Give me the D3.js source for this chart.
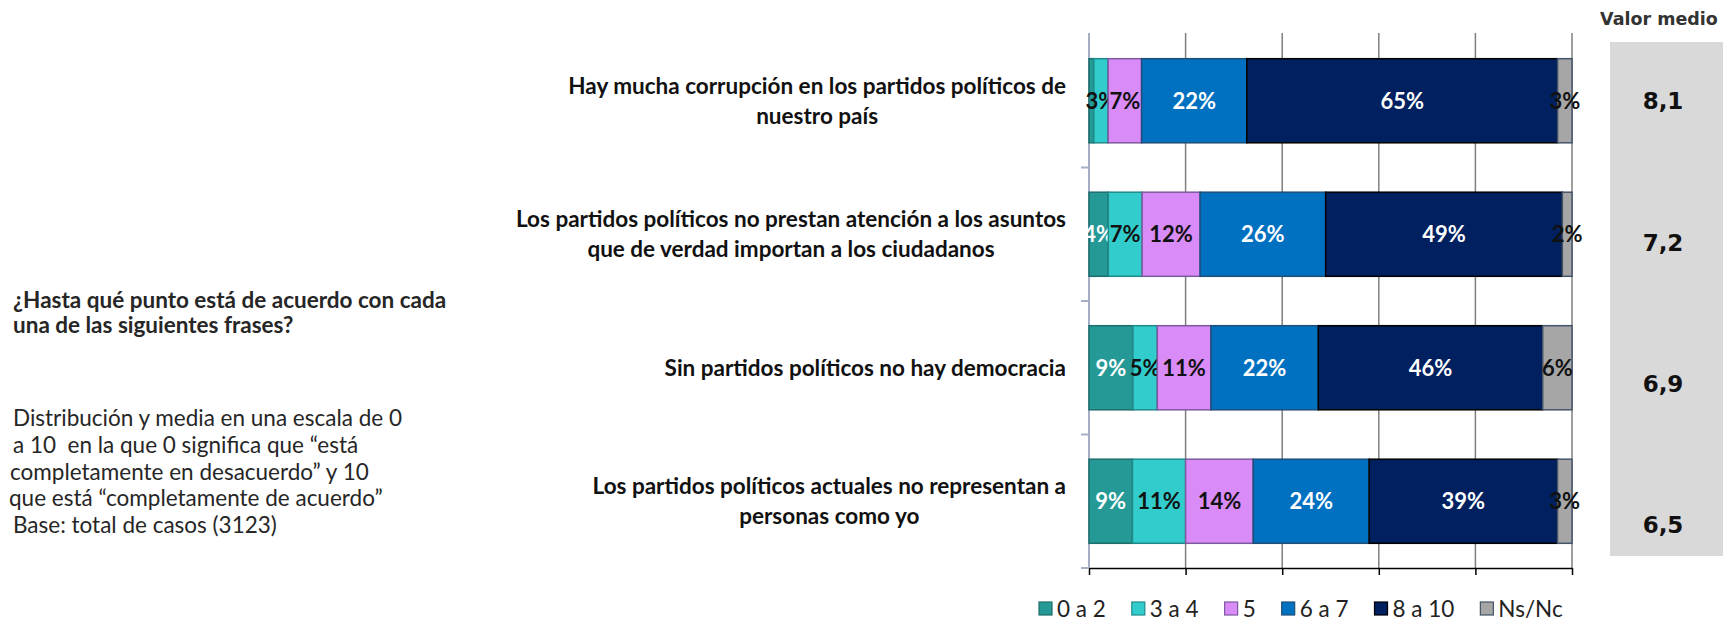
<!DOCTYPE html>
<html>
<head>
<meta charset="utf-8">
<script src="https://cdn.jsdelivr.net/npm/d3@7"></script>
<style>
  body { margin: 0; background: #fff; }
  svg { display: block; font-family: Lato, "Open Sans", sans-serif; }
</style>
</head>
<body>
<svg id="chart" width="1723" height="623"></svg>
<script>
// ---- data ----
const categories = [
  "Hay mucha corrupción en los partidos políticos de|nuestro país",
  "Los partidos políticos no prestan atención a los asuntos|que de verdad importan a los ciudadanos",
  "Sin partidos políticos no hay democracia",
  "Los partidos políticos actuales no representan a|personas como yo"
];
const seriesNames = ["0 a 2", "3 a 4", "5", "6 a 7", "8 a 10", "Ns/Nc"];
const v0a2  = [1, 4, 9, 9];
const v3a4  = [3, 7, 5, 11];
const v5    = [7, 12, 11, 14];
const v6a7  = [22, 26, 22, 24];
const v8a10 = [65, 49, 46, 39];
const vNsNc = [3, 2, 6, 3];
const meanValues = [8.1, 7.2, 6.9, 6.5];
const xTicks = [0, 0.2, 0.4, 0.6, 0.8, 1];

const colors = ["#259996", "#33cccc", "#d98bf8", "#0070c0", "#002060", "#a6a6a6"];
const strokes = ["#1d6e6c", "#1f8a8a", "#7d5a9e", "#1f4e79", "#000000", "#44546a"];
const labelColors = ["#fff", "#111", "#111", "#fff", "#fff", "#111"];

const rows = categories.map((c, i) => ({
  cat: c,
  "0 a 2": v0a2[i], "3 a 4": v3a4[i], "5": v5[i],
  "6 a 7": v6a7[i], "8 a 10": v8a10[i], "Ns/Nc": vNsNc[i]
}));

const svg = d3.select("#chart");

const x = d3.scaleLinear().domain([0, 1]).range([1089, 1572]);
const y = d3.scaleBand().domain(categories).range([34, 568]).paddingInner(0.37).paddingOuter(0.185);

// 100% stacked, like the original
const stack = d3.stack().keys(seriesNames).offset(d3.stackOffsetExpand);
const stacked = stack(rows);

// gridlines
svg.append("g")
  .selectAll("line")
  .data(xTicks.slice(1))
  .join("line")
  .attr("x1", d => x(d)).attr("x2", d => x(d))
  .attr("y1", 33).attr("y2", 568)
  .attr("stroke", "#7f7f7f").attr("stroke-width", 1.5);

// bottom axis
const xAxis = svg.append("g")
  .attr("transform", "translate(0,568)")
  .call(d3.axisBottom(x).tickValues(xTicks).tickFormat("").tickSize(7).tickSizeOuter(0));
xAxis.select(".domain").attr("stroke", "#000").attr("stroke-width", 1.5);
xAxis.selectAll(".tick line").attr("stroke", "#000").attr("stroke-width", 1.5);

// left axis with ticks between categories
const yBounds = d3.range(1, categories.length + 1).map(i => y.range()[0] + i * y.step());
svg.append("line")
  .attr("x1", 1089).attr("x2", 1089).attr("y1", 33).attr("y2", 568)
  .attr("stroke", "#a6aec6").attr("stroke-width", 2);
svg.append("g")
  .selectAll("line")
  .data(yBounds)
  .join("line")
  .attr("x1", 1081).attr("x2", 1089)
  .attr("y1", d => d).attr("y2", d => d)
  .attr("stroke", "#a6aec6").attr("stroke-width", 2);

// bars
const layer = svg.append("g")
  .selectAll("g")
  .data(stacked)
  .join("g");

layer.selectAll("rect")
  .data((s, si) => s.map(d => ({ d, si })))
  .join("rect")
  .attr("x", o => x(o.d[0]))
  .attr("y", o => y(o.d.data.cat))
  .attr("width", o => x(o.d[1]) - x(o.d[0]))
  .attr("height", y.bandwidth())
  .attr("fill", o => colors[o.si])
  .attr("stroke", o => strokes[o.si])
  .attr("stroke-width", 1.5);

// data labels (tiny 1% slice has none)
layer.selectAll("text")
  .data((s, si) => s.map(d => ({ d, si, v: d.data[s.key] })).filter(o => o.v >= 2))
  .join("text")
  .attr("x", o => (x(o.d[0]) + x(o.d[1])) / 2)
  .attr("y", o => y(o.d.data.cat) + y.bandwidth() / 2)
  .attr("dy", "0.36em")
  .attr("text-anchor", "middle")
  .attr("font-weight", "bold")
  .attr("font-size", 22)
  .attr("fill", o => labelColors[o.si])
  .text(o => o.v + "%");

// category labels
const catG = svg.append("g");
categories.forEach(c => {
  const lines = c.split("|");
  const t = catG.append("text")
    .attr("font-weight", "bold")
    .attr("font-size", 22.5)
    .attr("fill", "#111")
    .attr("text-anchor", "middle");
  const cy = y(c) + y.bandwidth() / 2;
  lines.forEach((ln, i) => {
    t.append("tspan")
      .attr("y", cy + (i - (lines.length - 1) / 2) * 30)
      .attr("dy", "0.36em")
      .text(ln);
  });
  const w = d3.max(t.selectAll("tspan").nodes(), n => n.getComputedTextLength());
  t.selectAll("tspan").attr("x", 1066 - w / 2);
});

// valor medio box
const fmt = d3.formatLocale({ decimal: ",", thousands: ".", grouping: [3], currency: ["", "€"] }).format(".1f");
const yMean = d3.scalePoint().domain(categories).range([101, 525]);
svg.append("rect")
  .attr("x", 1610).attr("y", 42).attr("width", 113).attr("height", 514)
  .attr("fill", "#d9d9d9");
svg.append("text")
  .attr("x", 1659).attr("y", 19).attr("dy", "0.36em")
  .attr("text-anchor", "middle")
  .attr("font-family", "DejaVu Sans")
  .attr("font-weight", "bold").attr("font-size", 17.5)
  .attr("fill", "#333")
  .text("Valor medio");
svg.append("g")
  .selectAll("text")
  .data(meanValues)
  .join("text")
  .attr("x", 1663)
  .attr("y", (d, i) => yMean(categories[i]))
  .attr("dy", "0.36em")
  .attr("text-anchor", "middle")
  .attr("font-family", "DejaVu Sans")
  .attr("font-weight", "bold").attr("font-size", 23)
  .attr("fill", "#111")
  .text(d => fmt(d));

// legend
const legend = svg.append("g").attr("transform", "translate(1039,609)");
let lx = 0;
seriesNames.forEach((n, i) => {
  const g = legend.append("g").attr("transform", `translate(${lx},0)`);
  g.append("rect")
    .attr("x", 0).attr("y", -7).attr("width", 13).attr("height", 13)
    .attr("fill", colors[i]).attr("stroke", strokes[i]).attr("stroke-width", 1.2);
  const t = g.append("text")
    .attr("x", 18).attr("y", 0).attr("dy", "0.36em")
    .attr("font-size", 22.5).attr("fill", "#222")
    .text(n);
  lx += 18 + t.node().getComputedTextLength() + 26;
});

// left side notes
const notes = svg.append("g").attr("fill", "#262626");
const question = ["¿Hasta qué punto está de acuerdo con cada", "una de las siguientes frases?"];
question.forEach((q, i) => {
  notes.append("text")
    .attr("x", 13).attr("y", 300 + i * 25).attr("dy", "0.36em")
    .attr("font-weight", "bold").attr("font-size", 22.5)
    .text(q);
});
const desc = [
  "Distribución y media en una escala de 0",
  "a 10  en la que 0 significa que “está",
  "completamente en desacuerdo” y 10",
  "que está “completamente de acuerdo”",
  "Base: total de casos (3123)"
];
const descX = [13, 13, 10, 9, 13];
desc.forEach((d, i) => {
  notes.append("text")
    .attr("x", descX[i]).attr("y", 418 + i * 26.7).attr("dy", "0.36em")
    .attr("font-size", 22.5)
    .style("white-space", "pre")
    .text(d);
});
</script>
</body>
</html>
